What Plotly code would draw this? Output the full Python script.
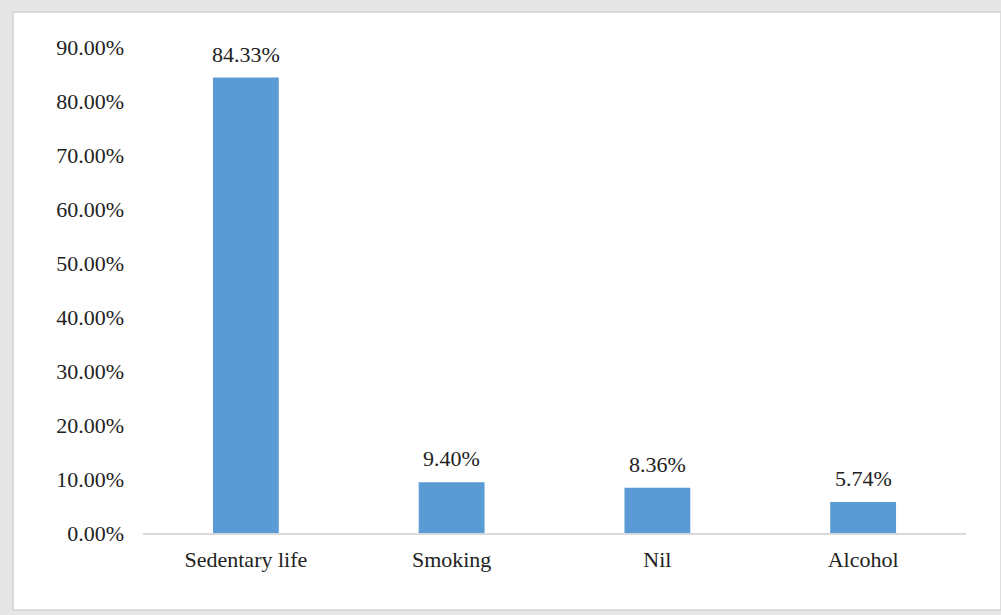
import plotly.graph_objects as go

categories = ["Sedentary life", "Smoking", "Nil", "Alcohol"]
values = [84.33, 9.40, 8.36, 5.74]
value_labels = ["84.33%", "9.40%", "8.36%", "5.74%"]
tick_vals = [0, 10, 20, 30, 40, 50, 60, 70, 80, 90]
tick_text = [f"{v:.2f}%" for v in tick_vals]

W, H = 1001, 615
ML, MR, MT, MB = 143, 35, 47, 82
pw, ph = W - ML - MR, H - MT - MB

def px_x(x):
    return (x - ML) / pw

def px_y(y):
    return (H - MB - y) / ph

font = dict(family="Liberation Serif, Times New Roman, serif", size=22, color="#222222")

fig = go.Figure(go.Bar(
    x=categories, y=values,
    marker=dict(color="#5b9bd5", line=dict(width=0)),
    width=0.32,
))

annotations = [
    dict(x=c, y=v, text=t, xref="x", yref="y", showarrow=False,
         yanchor="bottom", yshift=9, font=font)
    for c, v, t in zip(categories, values, value_labels)
]

fig.update_layout(
    width=W, height=H,
    margin=dict(l=ML, r=MR, t=MT, b=MB),
    paper_bgcolor="#e6e6e6",
    plot_bgcolor="white",
    showlegend=False,
    font=font,
    annotations=annotations,
    shapes=[dict(type="rect", xref="paper", yref="paper",
                 x0=px_x(13), x1=px_x(1001), y0=px_y(610), y1=px_y(12),
                 fillcolor="white", line=dict(color="#d4d4d4", width=1.5),
                 layer="below")],
)
fig.update_xaxes(showline=True, linecolor="#d9d9d9", linewidth=1.5,
                 ticks="", showgrid=False, tickfont=font, ticklabelstandoff=6)
fig.update_yaxes(range=[0, 90], tickvals=tick_vals, ticktext=tick_text,
                 showgrid=False, zeroline=False, showline=False, ticks="",
                 tickfont=font, ticklabelstandoff=18)

fig.write_html("out.html")
